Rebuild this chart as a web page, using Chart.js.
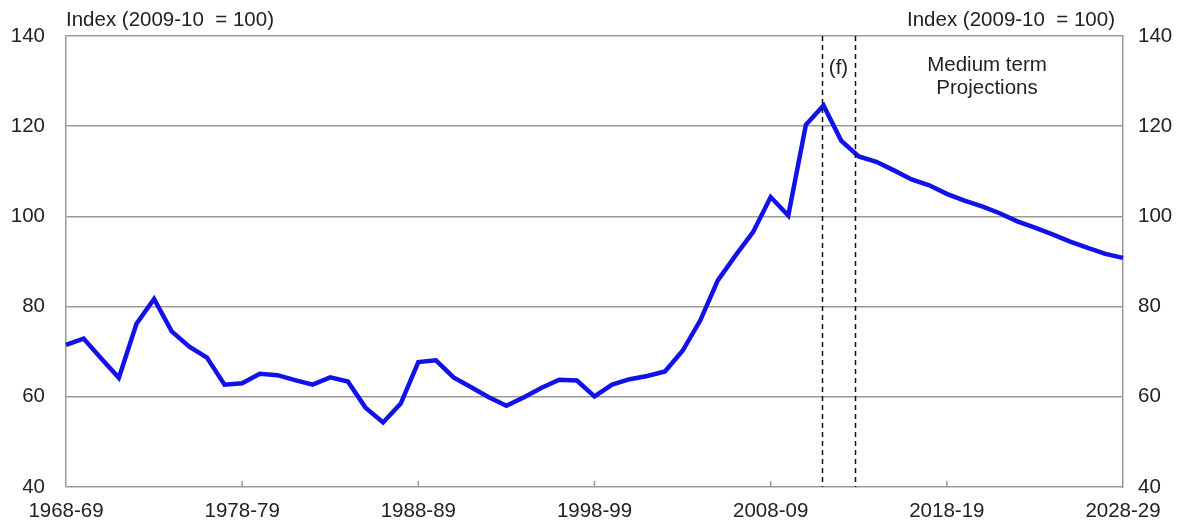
<!DOCTYPE html>
<html>
<head>
<meta charset="utf-8">
<script src="https://cdn.jsdelivr.net/npm/chart.js@4"></script>
<style>
  body { margin: 0; background: #fff; }
  #wrap { width: 1183px; height: 522px; }
</style>
</head>
<body>
<div id="wrap"><canvas id="chart"></canvas></div>
<script>
// years 1968-69 .. 2028-29
const firstYear = 1968;
const lastYear = 2028;
const years = [];
for (let y = firstYear; y <= lastYear; y++) {
    years.push(y + '-' + String((y + 1) % 100).padStart(2, '0'));
}

// index values (2009-10 = 100)
const indexValues = [
    71.5, 72.9, 68.5, 64.2, 76.2, 81.7, 74.5, 71.1, 68.7, 62.7,
    63.0, 65.1, 64.8, 63.7, 62.7, 64.3, 63.4, 57.6, 54.3, 58.5,
    67.7, 68.1, 64.3, 62.1, 59.9, 58.0, 59.9, 62.0, 63.8, 63.6,
    60.1, 62.7, 63.9, 64.6, 65.6, 70.2, 76.9, 85.8, 91.3, 96.5,
    104.3, 100.2, 120.3, 124.6, 116.8, 113.3, 112.1, 110.2, 108.2, 106.9,
    105.0, 103.5, 102.2, 100.7, 98.9, 97.5, 96.0, 94.4, 93.0, 91.7,
    90.8
];

const yTicks = [40, 60, 80, 100, 120, 140];
// dashed forecast markers, as positions on the category index
const forecastMarks = [42.9, 44.8];
const axisTitle = 'Index (2009-10  = 100)';

const FONT = "'Liberation Sans', Arial, sans-serif";
const TEXT = '#222';
const GRID = '#9a9a9a';
const FSIZE = 20.5;

// titles, notes, x tick marks and dashed lines
const annotate = {
    id: 'annotate',
    afterDraw(chart) {
        const ctx = chart.ctx;
        const area = chart.chartArea;
        const xs = chart.scales.x;
        ctx.save();

        // x tick marks every 10 years, pointing up into the plot
        ctx.strokeStyle = GRID;
        ctx.lineWidth = 1.5;
        years.forEach((lab, i) => {
            if (i % 10 !== 0 || i === 0 || i === years.length - 1) return;
            const x = xs.getPixelForValue(i);
            ctx.beginPath();
            ctx.moveTo(x, area.bottom);
            ctx.lineTo(x, area.bottom - 6);
            ctx.stroke();
        });

        // dashed forecast lines
        ctx.strokeStyle = '#111';
        ctx.lineWidth = 1.5;
        ctx.setLineDash([5, 4]);
        forecastMarks.forEach(v => {
            const x = Math.round(xs.getPixelForValue(v)) + 0.5;
            ctx.beginPath();
            ctx.moveTo(x, area.top);
            ctx.lineTo(x, area.bottom);
            ctx.stroke();
        });
        ctx.setLineDash([]);

        ctx.fillStyle = TEXT;
        ctx.font = FSIZE + 'px ' + FONT;
        ctx.textBaseline = 'middle';
        ctx.textAlign = 'left';
        ctx.fillText(axisTitle, area.left, 20);
        ctx.textAlign = 'right';
        ctx.fillText(axisTitle, area.right - 8, 20);

        ctx.textAlign = 'center';
        const fx = (xs.getPixelForValue(forecastMarks[0]) + xs.getPixelForValue(forecastMarks[1])) / 2;
        ctx.fillText('(f)', fx, 68);
        ctx.fillText('Medium term', 987, 65);
        ctx.fillText('Projections', 987, 88);
        ctx.restore();
    }
};

const tickFont = { family: FONT, size: FSIZE };

new Chart(document.getElementById('chart'), {
    type: 'line',
    data: {
        labels: years,
        datasets: [{
            data: indexValues,
            borderColor: '#1212e8',
            borderWidth: 4.5,
            pointRadius: 0,
            tension: 0,
            fill: false,
            yAxisID: 'y'
        }]
    },
    options: {
        responsive: true,
        maintainAspectRatio: false,
        animation: false,
        layout: { padding: { top: 36, left: 0, right: 0, bottom: 0 } },
        plugins: { legend: { display: false }, tooltip: { enabled: false } },
        scales: {
            x: {
                type: 'category',
                offset: false,
                grid: { display: false, drawTicks: false },
                border: { display: false },
                ticks: {
                    autoSkip: false,
                    maxRotation: 0,
                    padding: 12,
                    color: TEXT,
                    font: tickFont,
                    callback: (v, i) => (i % 10 === 0 ? years[i] : null)
                },
                afterFit: s => { s.height = 35; }
            },
            y: {
                position: 'left',
                min: 40, max: 140,
                grid: { color: GRID, lineWidth: 1.5, drawTicks: false },
                border: { display: true, color: GRID, width: 1.5 },
                ticks: {
                    stepSize: 20, padding: 21, color: TEXT, font: tickFont,
                    callback: v => (yTicks.includes(v) ? v : null)
                },
                afterFit: s => { s.width = 66; }
            },
            y2: {
                position: 'right',
                min: 40, max: 140,
                grid: { display: false, drawTicks: false },
                border: { display: true, color: GRID, width: 1.5 },
                ticks: {
                    stepSize: 20, padding: 15, color: TEXT, font: tickFont,
                    callback: v => (yTicks.includes(v) ? v : null)
                },
                afterFit: s => { s.width = 60; }
            }
        }
    },
    plugins: [annotate]
});
</script>
</body>
</html>
